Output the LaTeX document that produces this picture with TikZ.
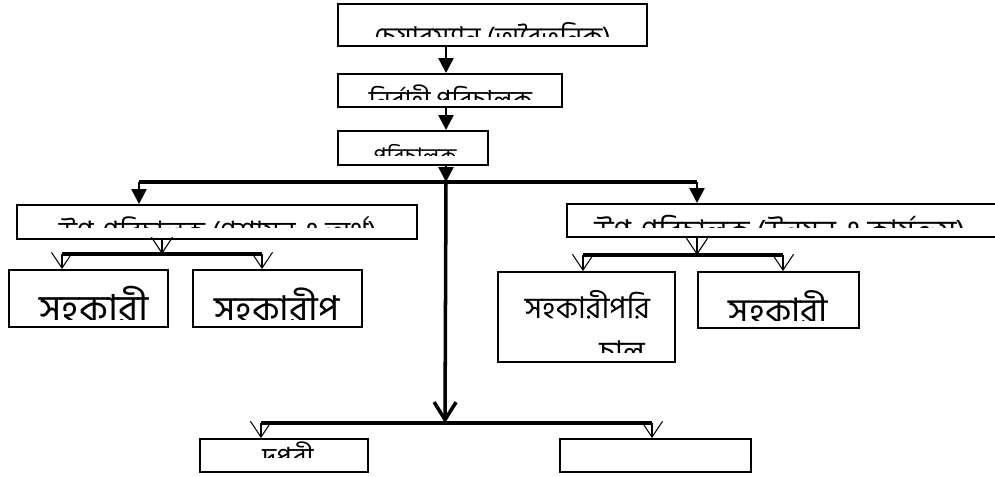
\documentclass[tikz,border=0pt]{standalone}
\usepackage{fontspec}
\newfontfamily\bn[Script=Bengali]{Hind Siliguri}
\usetikzlibrary{arrows.meta}
\tikzset{
  box/.style={draw,line width=1.1pt,inner sep=0pt},
  lbl/.style={font=\bn\fontsize{#1}{#1}\selectfont,inner sep=0pt,anchor=base},
  lbl/.default=16,
  stem/.style={line width=1.4pt},
  trunk/.style={line width=2pt},
  solidtip/.style={-{Triangle[length=8.5pt,width=8.5pt]}},
  opentip/.style={-{Straight Barb[length=9pt,width=12pt,line width=0.6pt]}},
  bigtip/.style={-{Straight Barb[length=10pt,width=12.5pt]}},
}
\begin{document}
\begin{tikzpicture}[x=0.02cm,y=-0.02cm]
\useasboundingbox (0,0) rectangle (995,477);

% boxes
\node[box,minimum width=6.18cm,minimum height=0.84cm] (chair) at (492.5,25) {};
\node[box,minimum width=4.48cm,minimum height=0.66cm] (exec) at (450,90.5) {};
\node[box,minimum width=3cm,minimum height=0.68cm] (dir) at (413,148) {};
\node[box,minimum width=8cm,minimum height=0.68cm] (dpL) at (217,222) {};
\node[box,minimum width=8.76cm,minimum height=0.66cm] (dpR) at (786,220.5) {};
\node[box,minimum width=3.18cm,minimum height=1.14cm] (aL1) at (88.5,298.5) {};
\node[box,minimum width=3.38cm,minimum height=1.14cm] (aL2) at (277.5,298.5) {};
\node[box,minimum width=3.54cm,minimum height=1.8cm] (aR1) at (586.5,317) {};
\node[box,minimum width=3.22cm,minimum height=1.12cm] (aR2) at (778.5,300) {};
\node[box,minimum width=3.36cm,minimum height=0.66cm] (bL) at (284,455.5) {};
\node[box,minimum width=3.82cm,minimum height=0.66cm] (bR) at (655.5,455.5) {};

% labels, cut off below like in the original
\begin{scope}
\clip (chair.north west) rectangle (chair.east |- 0,36);
\node[lbl=15.5] (chairtxt) at (492.5,46) {চেয়ারম্যান (অবৈতনিক)};
\end{scope}
\begin{scope}
\clip (exec.north west) rectangle (exec.east |- 0,99);
\node[lbl=15] (exectxt) at (450.5,109) {নির্বাহী পরিচালক};
\end{scope}
\begin{scope}
\clip (dir.north west) rectangle (dir.east |- 0,155);
\node[lbl=13] (dirtxt) at (415,164) {পরিচালক};
\end{scope}
\begin{scope}
\clip (dpL.north west) rectangle (dpL.east |- 0,227);
\node[lbl=16] (dpLtxt) at (218,241) {উপ-পরিচালক (প্রশাসন ও অর্থ)};
\end{scope}
\begin{scope}
\clip (dpR.north west) rectangle (dpR.east |- 0,227);
\node[lbl=17] (dpRtxt) at (780,241) {উপ-পরিচালক (উন্নয়ন ও কার্যক্রম)};
\end{scope}
\begin{scope}
\clip (aL1.north west) rectangle (aL1.east |- 0,319);
\node[lbl=22] (aL1txt) at (94,322) {সহকারী};
\end{scope}
\begin{scope}
\clip (aL2.north west) rectangle (aL2.east |- 0,319);
\node[lbl=21] (aL2txt) at (277,322) {সহকারীপ};
\end{scope}
\begin{scope}
\clip (aR1.north west) rectangle (aR1.east |- 0,352);
\node[lbl=17] (aR1txt) at (587.5,318) {সহকারীপরি};
\node[lbl=17] (aR1more) at (622,362) {চাল};
\end{scope}
\begin{scope}
\clip (aR2.north west) rectangle (aR2.east |- 0,320);
\node[lbl=20] (aR2txt) at (778.5,323) {সহকারী};
\end{scope}
\begin{scope}
\clip (bL.north west) rectangle (bL.east |- 0,457);
\node[lbl=15] (bLtxt) at (288,466) {দপ্তরী};
\end{scope}

% connectors
\coordinate (spine) at (446,0);
\coordinate (jn) at (446,182);
\coordinate (jl) at (139,182);
\coordinate (jr) at (697,182);
\coordinate (jb) at (445,423);
\coordinate (bl) at (261,423);
\coordinate (br) at (652,423);
\coordinate (lm) at (162,254);
\coordinate (ll) at (62,254);
\coordinate (lr) at (262,254);
\coordinate (rm) at (697,255);
\coordinate (rl) at (583,255);
\coordinate (rr) at (783,255);

\draw[stem,solidtip] (chair.south -| spine) -- (exec.north -| spine);
\draw[stem,solidtip] (exec.south -| spine) -- (dir.north -| spine);
\draw[stem,solidtip] (dir.south -| spine) -- (jn);
\draw[trunk] (jl) -- (jr);
\draw[stem,solidtip] (jl) -- (dpL.north -| jl);
\draw[stem,solidtip] (jr) -- (dpR.north -| jr);
\draw[trunk,bigtip] (jn) -- (jb);
\draw[trunk] (bl) -- (br);
\draw[stem,opentip] (bl) -- (bL.north -| bl);
\draw[stem,opentip] (br) -- (bR.north -| br);

\draw[stem,opentip] (dpL.south -| lm) -- (lm);
\draw[trunk] (ll) -- (lr);
\draw[stem,opentip] (ll) -- (aL1.north -| ll);
\draw[stem,opentip] (lr) -- (aL2.north -| lr);

\draw[stem,opentip] (dpR.south -| rm) -- (rm);
\draw[trunk] (rl) -- (rr);
\draw[stem,opentip] (rl) -- (aR1.north -| rl);
\draw[stem,opentip] (rr) -- (aR2.north -| rr);
\end{tikzpicture}
\end{document}
